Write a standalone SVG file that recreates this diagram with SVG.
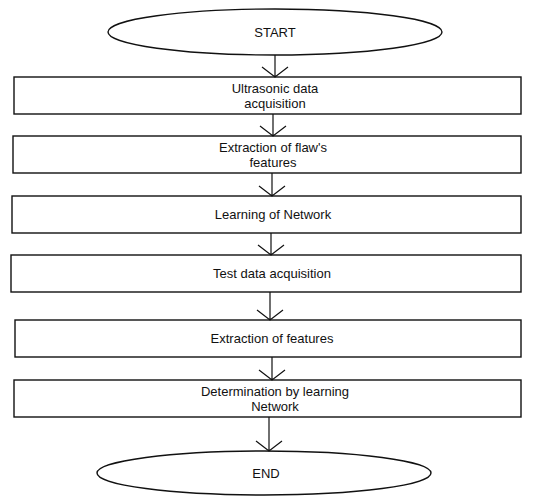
<svg xmlns="http://www.w3.org/2000/svg" width="544" height="498" viewBox="0 0 544 498">
<style>
.n{fill:#fff;stroke:#111;stroke-width:1.4}
.t{font-family:"Liberation Sans",Arial,sans-serif;font-size:13px;fill:#111;text-anchor:middle}
.c{fill:none;stroke:#111;stroke-width:1.2}
</style>
<rect width="544" height="498" fill="#fff"/>
<g id="start"><ellipse class="n" cx="275" cy="32" rx="167" ry="23"/><text class="t" x="275" y="37">START</text></g>
<g id="n1"><rect class="n" x="14" y="77" width="507" height="37"/><text class="t" x="275" y="93">Ultrasonic data</text><text class="t" x="275" y="108">acquisition</text></g>
<g id="n2"><rect class="n" x="13" y="136" width="508" height="37"/><text class="t" x="273" y="152">Extraction of flaw's</text><text class="t" x="273" y="167">features</text></g>
<g id="n3"><rect class="n" x="12" y="196" width="509" height="37"/><text class="t" x="273" y="219">Learning of Network</text></g>
<g id="n4"><rect class="n" x="11" y="255" width="510" height="37"/><text class="t" x="272" y="278">Test data acquisition</text></g>
<g id="n5"><rect class="n" x="15" y="320" width="506" height="37"/><text class="t" x="272" y="343">Extraction of features</text></g>
<g id="n6"><rect class="n" x="14" y="380" width="507" height="37"/><text class="t" x="275" y="396">Determination by learning</text><text class="t" x="275" y="411">Network</text></g>
<g id="end"><ellipse class="n" cx="264" cy="473" rx="167" ry="22"/><text class="t" x="266" y="478">END</text></g>
<g id="connectors">
<path class="c" d="M275 55V77M262 67L275 77L288 67"/>
<path class="c" d="M273 114V136M260 126L273 136L286 126"/>
<path class="c" d="M272 173V196M259 186L272 196L285 186"/>
<path class="c" d="M271 233V255M258 245L271 255L284 245"/>
<path class="c" d="M270 292V320M257 310L270 320L283 310"/>
<path class="c" d="M272 357V380M259 370L272 380L285 370"/>
<path class="c" d="M269 417V451M256 441L269 451L282 441"/>
</g>
</svg>
